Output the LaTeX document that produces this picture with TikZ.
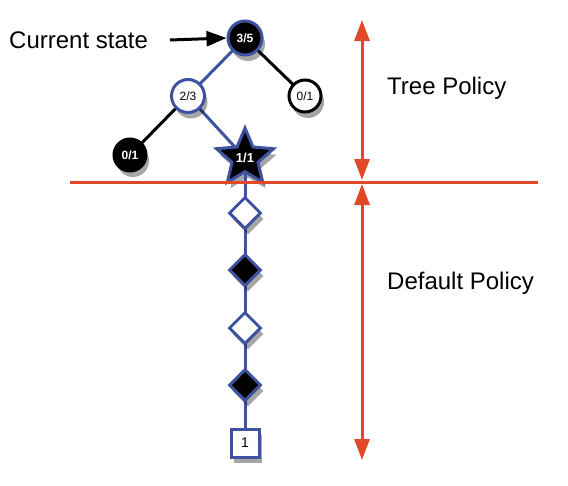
\documentclass[tikz,border=0pt]{standalone}
\usepackage{fontspec}
\setmainfont{Liberation Sans}
\usetikzlibrary{shapes.geometric,shadows,arrows.meta}
\definecolor{tblue}{RGB}{62,82,160}
\definecolor{tred}{RGB}{224,72,40}
\tikzset{
  sh/.style={drop shadow={shadow xshift=3pt,shadow yshift=-6pt,fill=black,opacity=0.35}},
  blknode/.style={circle,draw=tblue,line width=3pt,fill=black,text=white,minimum size=34pt,inner sep=0pt,font=\bfseries\fontsize{12}{13}\selectfont,sh},
  whtnode/.style={circle,draw=tblue,line width=3pt,fill=white,text=black,minimum size=33pt,inner sep=0pt,font=\fontsize{12}{13}\selectfont,sh},
  leafw/.style={circle,draw=black,line width=3pt,fill=white,text=black,minimum size=32pt,inner sep=0pt,font=\fontsize{12}{13}\selectfont,sh},
  leafb/.style={circle,draw=black,line width=3pt,fill=black,text=white,minimum size=32pt,inner sep=0pt,font=\bfseries\fontsize{12}{13}\selectfont,sh},
  stnode/.style={star,star points=5,star point ratio=2.2,draw=tblue,line width=3pt,fill=black,text=white,minimum size=60pt,inner sep=0pt,font=\bfseries\fontsize{13}{14}\selectfont,sh},
  dw/.style={diamond,draw=tblue,line width=3pt,fill=white,minimum size=32pt,inner sep=0pt,sh},
  db/.style={diamond,draw=tblue,line width=3pt,fill=black,minimum size=32pt,inner sep=0pt,sh},
  sq/.style={rectangle,draw=tblue,line width=3pt,fill=white,minimum size=28pt,inner sep=0pt,font=\fontsize{14}{15}\selectfont,sh},
  bedge/.style={draw=tblue,line width=3pt},
  kedge/.style={draw=black,line width=3pt},
  redline/.style={draw=tred,line width=3pt},
  redarrow/.style={draw=tred,line width=3pt,{Triangle[width=15pt,length=21pt]}-{Triangle[width=15pt,length=21pt]}},
  lbl/.style={font=\fontsize{24}{28}\selectfont,inner sep=0pt}
}
\begin{document}
\begin{tikzpicture}[x=1pt,y=-1pt]
\useasboundingbox (0,0) rectangle (568,485);
\coordinate (n35) at (245,38);
\coordinate (n23) at (188,96);
\coordinate (n01r) at (305,96);
\coordinate (n01l) at (130,155);
\coordinate (nst) at (245,158);
\coordinate (nsq) at (245,443);
\draw[kedge] (n35) -- (n01r);
\draw[kedge] (n23) -- (n01l);
\draw[bedge] (n35) -- (n23);
\draw[bedge] (n23) -- (nst);
\draw[bedge] (nst) -- (nsq);
\node[blknode] (a) at (n35) {3/5};
\node[whtnode] (b) at (n23) {2/3};
\node[leafw] (c) at (n01r) {0/1};
\node[leafb] (d) at (n01l) {0/1};
\node[dw] (e1) at (245,213) {};
\node[db] (e2) at (245,270) {};
\node[dw] (e3) at (245,328) {};
\node[db] (e4) at (245,385) {};
\node[sq] (f) at (nsq) {1};
\node[stnode] (s) at (nst) {1/1};
\draw[bedge] (s.center) ++(0,14) -- (e1.north);
\coordinate (hl) at (70,182);
\coordinate (hr) at (538,182);
\draw[redline] (hl) -- (hr);
\coordinate (t1) at (362,20);
\coordinate (t2) at (362,180);
\coordinate (b1) at (362,184);
\coordinate (b2) at (362,460);
\draw[redarrow] (t1) -- (t2);
\draw[redarrow] (b1) -- (b2);
\node[lbl,anchor=west] (tp) at (387,88) {Tree Policy};
\node[lbl,anchor=west] (dp) at (387,283) {Default Policy};
\node[lbl,anchor=west] (cs) at (9,40) {Current state};
\coordinate (csa) at (170,40);
\draw[black,line width=3pt,-{Triangle[width=15pt,length=20pt]}] (csa) -- (a.west);
\end{tikzpicture}
\end{document}
